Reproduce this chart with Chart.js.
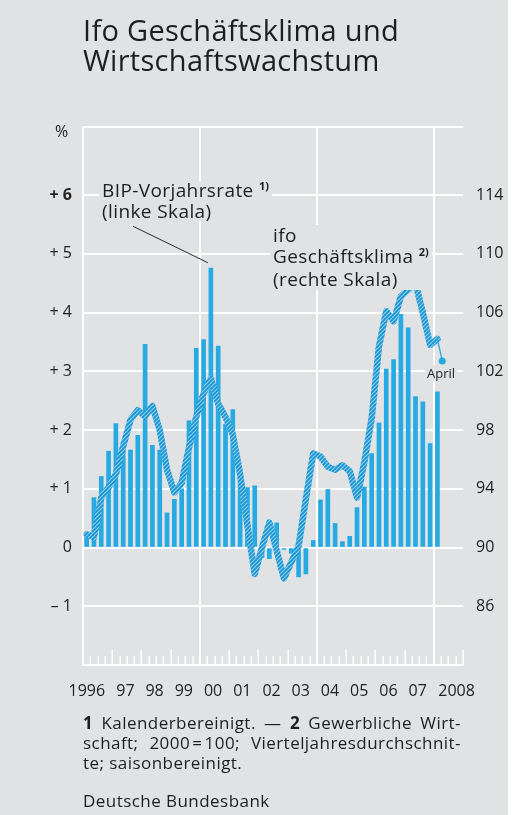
<!DOCTYPE html>
<html><head><meta charset="utf-8">
<script src="https://cdn.jsdelivr.net/npm/chart.js@4.4.1/dist/chart.umd.min.js"></script>
<style>
html,body{margin:0;padding:0;background:#fff;}
#wrap{position:relative;width:523px;height:815px;overflow:hidden;}
#panel{position:absolute;left:0;top:0;width:508px;height:815px;background:#e1e2e4;}
#c{position:absolute;left:0;top:0;}
.t{position:absolute;font-family:"Open Sans",sans-serif;color:#1e1e1e;white-space:nowrap;}
.bx{background:#e1e2e4;padding:0 3px;}
.j{width:378px;text-align:justify;text-align-last:justify;letter-spacing:0.45px;}
sup{font-size:11px;font-weight:bold;vertical-align:0;position:relative;top:-7px;letter-spacing:0;}
</style></head><body>
<div id="wrap">
<div id="panel"></div>
<canvas id="c" width="523" height="815"></canvas>
<div class="t" style="left:83px;top:15px;font-size:29px;line-height:30px;letter-spacing:0.3px;">Ifo Geschäftsklima und<br>Wirtschaftswachstum</div>
<div class="t" style="left:55px;top:121px;font-size:16px;line-height:20px;">%</div>
<div class="t bx" style="left:99px;top:181px;font-size:19px;line-height:19px;letter-spacing:0.4px;">BIP-Vorjahrsrate <sup>1)</sup><br>(linke Skala)</div>
<div class="t bx" style="left:270px;top:225px;font-size:19px;line-height:20.5px;letter-spacing:0.4px;">ifo<br>Geschäftsklima <sup>2)</sup><br>(rechte Skala)</div>
<div class="t bx" style="left:425px;top:365px;font-size:13px;line-height:16px;padding:0 2px;">April</div>
<div class="t j" style="left:83px;top:713px;font-size:17px;line-height:20px;"><b>1</b> Kalenderbereinigt. — <b>2</b> Gewerbliche Wirt-</div>
<div class="t j" style="left:83px;top:733px;font-size:17px;line-height:20px;">schaft;&nbsp; 2000&#8202;=&#8202;100;&nbsp; Vierteljahresdurchschnit-</div>
<div class="t" style="left:83px;top:753px;font-size:17px;line-height:20px;letter-spacing:0.45px;">te; saisonbereinigt.</div>
<div class="t" style="left:83px;top:791px;font-size:17px;line-height:20px;letter-spacing:0.45px;">Deutsche Bundesbank</div>
</div>
<script>
// ---- data ----
const startYear = 1996;
// BIP-Vorjahresrate (%), quarterly 1996 Q1 .. 2008 Q1
const gdpGrowth = [
  0.25, 0.85, 1.21, 1.64,
  2.11, 1.77, 1.66, 1.91,
  3.46, 1.74, 1.66, 0.59,
  0.82, 1.00, 2.16, 3.39,
  3.54, 4.76, 3.43, 2.10,
  2.35, 1.30, 1.02, 1.05,
  -0.17, -0.19, 0.42, -0.03,
  -0.10, -0.50, -0.45, 0.12,
  0.81, 0.99, 0.41, 0.10,
  0.19, 0.68, 1.03, 1.60,
  2.12, 3.04, 3.20, 3.97,
  3.74, 2.57, 2.48, 1.77,
  2.65
];
// ifo Geschaeftsklima (2000=100), quarterly averages 1996 Q1 .. 2008 Q1
const ifoClimate = [
  90.9, 90.7, 93.4, 94.1,
  95.0, 96.9, 98.7, 99.35,
  98.95, 99.65, 98.0, 95.3,
  93.75, 94.4, 96.8, 98.9,
  100.5, 101.5, 99.8, 98.9,
  97.7, 95.0, 91.5, 88.2,
  90.0, 91.7, 89.8, 87.9,
  89.0, 90.1, 93.3, 96.4,
  96.2, 95.5, 95.3, 95.6,
  95.2, 93.4, 95.8, 98.8,
  103.7, 106.1, 105.4, 107.1,
  107.55, 108.0, 106.0, 103.8,
  104.2
];
const ifoApril = 102.7;          // April 2008
const ifoAprilPos = 2008 + 3.5 / 12;
const leftTicks = [-1, 0, 1, 2, 3, 4, 5, 6];
const leftTickLabels = ['– 1', '0', '+ 1', '+ 2', '+ 3', '+ 4', '+ 5', '+ 6'];
const rightTicks = [86, 90, 94, 98, 102, 106, 110, 114];
const yearLabels = ['1996', '97', '98', '99', '00', '01', '02', '03', '04', '05', '06', '07', '2008'];
const yearLabelPos = [1996.13, 1997.45, 1998.45, 1999.45, 2000.45, 2001.45, 2002.45, 2003.45, 2004.45, 2005.45, 2006.45, 2007.45, 2008.78];
const majorYears = [1996, 2000, 2004, 2008];

const BLUE = '#27a9e1';
const FONT = '"Open Sans", sans-serif';
const qx = i => startYear + (i + 0.5) / 4;

function makePattern() {
  const c = document.createElement('canvas');
  c.width = 4; c.height = 4;
  const g = c.getContext('2d');
  g.fillStyle = '#8fd0ef'; g.fillRect(0, 0, 4, 4);
  g.strokeStyle = '#1a94d1'; g.lineWidth = 1.7;
  g.beginPath();
  g.moveTo(-1, 5); g.lineTo(5, -1);
  g.moveTo(-1, 1); g.lineTo(1, -1);
  g.moveTo(3, 5); g.lineTo(5, 3);
  g.stroke();
  return g.createPattern(c, 'repeat');
}

const frame = {
  id: 'frame',
  beforeDatasetsDraw(chart) {
    const { ctx, chartArea: a, scales: { x } } = chart;
    const ln = (x1, y1, x2, y2) => { ctx.beginPath(); ctx.moveTo(x1, y1); ctx.lineTo(x2, y2); ctx.stroke(); };
    ctx.save();
    ctx.strokeStyle = '#ffffff';
    ctx.lineWidth = 2;
    ln(a.left, a.top, a.right, a.top);
    ln(a.left - 1, a.bottom, a.right, a.bottom);
    majorYears.forEach(yr => { const p = Math.round(x.getPixelForValue(yr)); ln(p, a.top, p, a.bottom); });
    ctx.lineWidth = 1.5;
    for (let yr = 1996; yr <= 2009; yr++) {
      const p = Math.round(x.getPixelForValue(yr)) + 0.25;
      ln(p, a.bottom - 15, p, a.bottom);
      if (yr < 2009) for (let q = 1; q < 4; q++) {
        const pq = Math.round(x.getPixelForValue(yr + q / 4)) + 0.25;
        ln(pq, a.bottom - 9, pq, a.bottom);
      }
    }
    ctx.restore();
  },
  afterDraw(chart) {
    const { ctx, scales: { x, y } } = chart;
    ctx.save();
    ctx.strokeStyle = '#2a2a2a';
    ctx.lineWidth = 1;
    ctx.beginPath();
    ctx.moveTo(x.getPixelForValue(1997.71), y.getPixelForValue(5.47));
    ctx.lineTo(x.getPixelForValue(2000.27), y.getPixelForValue(4.85));
    ctx.stroke();
    ctx.restore();
  }
};

new Chart(document.getElementById('c'), {
  type: 'bar',
  data: {
    datasets: [
      {
        type: 'line', yAxisID: 'y2',
        data: ifoClimate.map((v, i) => ({ x: qx(i), y: v })),
        borderColor: makePattern(), borderWidth: 6.5,
        borderJoinStyle: 'round', borderCapStyle: 'round',
        pointRadius: 0, tension: 0, order: 1
      },
      {
        type: 'line', yAxisID: 'y2',
        data: [{ x: qx(ifoClimate.length - 1), y: ifoClimate[ifoClimate.length - 1] }, { x: ifoAprilPos, y: ifoApril }],
        borderColor: BLUE, borderWidth: 1.3,
        pointRadius: [0, 3.5], pointBackgroundColor: BLUE, pointBorderWidth: 0,
        tension: 0, order: 0
      },
      {
        type: 'bar', yAxisID: 'y',
        data: gdpGrowth.map((v, i) => ({ x: qx(i), y: v })),
        backgroundColor: BLUE, barThickness: 4, order: 2
      }
    ]
  },
  options: {
    responsive: false, animation: false, devicePixelRatio: 1,
    layout: { padding: { top: 127, left: 0, right: 0, bottom: 0 } },
    plugins: { legend: { display: false }, tooltip: { enabled: false } },
    scales: {
      x: {
        type: 'linear', min: 1996, max: 2009, offset: false,
        grid: { display: false }, border: { display: false },
        afterBuildTicks: s => { s.ticks = yearLabelPos.map(v => ({ value: v })); },
        ticks: {
          autoSkip: false, maxRotation: 0, padding: 9, color: '#222',
          font: { family: FONT, size: 16 },
          callback: (v, i) => yearLabels[i]
        },
        afterFit: s => { s.height = 150; }
      },
      y: {
        position: 'left', min: -2, max: 7.16,
        grid: { color: '#ffffff', lineWidth: 2, drawTicks: false },
        border: { display: false },
        afterBuildTicks: s => { s.ticks = leftTicks.map(v => ({ value: v })); },
        ticks: {
          padding: 11, color: '#222',
          font: c => ({ family: FONT, size: 16, weight: (c.tick && c.tick.value === 6) ? 'bold' : 'normal' }),
          callback: (v, i) => leftTickLabels[i]
        },
        afterFit: s => { s.width = 83; }
      },
      y2: {
        position: 'right', min: 82, max: 118.64,
        grid: { display: false, drawTicks: false }, border: { display: false },
        afterBuildTicks: s => { s.ticks = rightTicks.map(v => ({ value: v })); },
        ticks: { padding: 13, color: '#222', font: { family: FONT, size: 16 }, callback: v => String(v) },
        afterFit: s => { s.width = 60; }
      }
    }
  },
  plugins: [frame]
});
</script>
</body></html>
